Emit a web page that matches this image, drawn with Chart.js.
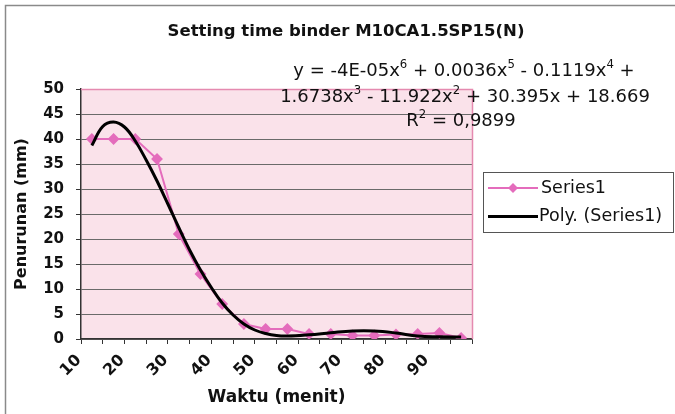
<!DOCTYPE html>
<html>
<head>
<meta charset="utf-8">
<script src="https://cdn.jsdelivr.net/npm/chart.js@4/dist/chart.umd.min.js"></script>
<style>
  html, body { margin: 0; padding: 0; background: #fff; }
  #wrap { width: 675px; height: 414px; position: relative; }
</style>
</head>
<body>
<div id="wrap"><canvas id="c" width="675" height="414"></canvas></div>
<script>
// Setting time measurements: settlement (mm) against time (minutes)
const categories = [10, 15, 20, 25, 30, 35, 40, 45, 50, 55, 60, 65, 70, 75, 80, 85, 90, 95];
const series1 = [40, 40, 40, 36, 21, 13, 7, 3, 2, 2, 1, 1, 0.7, 0.7, 0.9, 1, 1.2, 0.2];

// 6th-order polynomial trendline, sampled along the category index (1 = first category)
const trendX = [1, 1.5, 2, 2.5, 3, 3.5, 4, 4.5, 5, 5.5, 6, 6.5, 7, 7.5, 8, 8.5, 9, 9.5, 10, 11, 12, 13, 14, 15, 16, 17, 18];
const trendY = [38.7, 42.5, 43.4, 42.4, 39.6, 35.8, 31.6, 27.0, 22.3, 17.8, 13.8, 10.3, 7.2, 4.8, 3.0, 1.8, 1.1, 0.7, 0.6, 0.85, 1.25, 1.6, 1.6, 1.2, 0.6, 0.45, 0.4];

// Coefficients printed with the trendline, highest power first
const polyCoef = [-4E-05, 0.0036, -0.1119, 1.6738, -11.922, 30.395, 18.669];
const rSquaredText = '0,9899';

const yMin = 0, yMax = 50, yStep = 5;

const chartTitle = 'Setting time binder M10CA1.5SP15(N)';
const xTitle = 'Waktu (menit)';
const yTitle = 'Penurunan (mm)';
const seriesName = 'Series1';
const trendName = 'Poly. (Series1)';

const FONT = '"DejaVu Sans", "Liberation Sans", Arial, sans-serif';
const PINK = '#e46cbc';
const PLOT_BG = 'rgb(250,226,234)';
const GRID = '#6a6a6a';
const AXIS = '#333333';
const BORDER_PINK = '#e58ab0';

function fmtNum(v) {
  const a = Math.abs(v);
  if (a < 0.001) {
    return a.toExponential(0).toUpperCase().replace(/E([+-])(\d)$/, 'E$10$2');
  }
  return String(a);
}

// Build the equation as text segments (superscripts flagged), split over two lines
function equationLines() {
  const deg = polyCoef.length - 1;
  const line1 = [{ t: 'y = ' }];
  const line2 = [];
  polyCoef.forEach((c, i) => {
    const p = deg - i;
    const target = p >= 4 ? line1 : line2;
    let prefix = '';
    if (i === 0) prefix = c < 0 ? '-' : '';
    else if (p === 3) prefix = '';
    else prefix = c < 0 ? ' - ' : ' + ';
    if (p === 3) line1.push({ t: c < 0 ? ' -' : ' +' });
    let txt = prefix + fmtNum(c);
    if (p >= 1) txt += 'x';
    target.push({ t: txt });
    if (p >= 2) target.push({ t: String(p), sup: true });
  });
  return [line1, line2];
}

function drawRich(ctx, segs, cx, cy, size) {
  let total = 0;
  segs.forEach(s => {
    ctx.font = (s.sup ? size * 0.65 : size) + 'px ' + FONT;
    s.w = ctx.measureText(s.t).width;
    total += s.w;
  });
  let x = cx - total / 2;
  ctx.textAlign = 'left';
  ctx.textBaseline = 'middle';
  segs.forEach(s => {
    ctx.font = (s.sup ? size * 0.65 : size) + 'px ' + FONT;
    ctx.fillText(s.t, x, s.sup ? cy - size * 0.34 : cy);
    x += s.w;
  });
}

const decorations = {
  id: 'decorations',
  beforeDraw(chart) {
    const { ctx, chartArea: a, width, height } = chart;
    ctx.save();
    ctx.fillStyle = '#ffffff';
    ctx.fillRect(0, 0, width, height);
    // outer chart frame
    ctx.strokeStyle = '#8a8a8a';
    ctx.lineWidth = 1.5;
    ctx.strokeRect(5.5, 5.5, width + 10, height + 10);
    // plot area fill
    ctx.fillStyle = PLOT_BG;
    ctx.fillRect(a.left, a.top, a.right - a.left, a.bottom - a.top);
    ctx.restore();
  },
  beforeDatasetsDraw(chart) {
    const { ctx, chartArea: a } = chart;
    ctx.save();
    ctx.strokeStyle = BORDER_PINK;
    ctx.lineWidth = 1.5;
    ctx.beginPath();
    ctx.moveTo(a.left, a.top + 0.5);
    ctx.lineTo(a.right + 0.5, a.top + 0.5);
    ctx.lineTo(a.right + 0.5, a.bottom);
    ctx.stroke();
    ctx.restore();
  },
  afterDraw(chart) {
    const { ctx } = chart;
    ctx.save();
    ctx.fillStyle = '#111111';

    // chart title
    ctx.font = 'bold 16.5px ' + FONT;
    ctx.textAlign = 'center';
    ctx.textBaseline = 'middle';
    ctx.fillText(chartTitle, 346, 32);

    // trendline equation and R squared
    const [l1, l2] = equationLines();
    drawRich(ctx, l1, 464, 71, 18);
    drawRich(ctx, l2, 465, 97, 18);
    drawRich(ctx, [{ t: 'R' }, { t: '2', sup: true }, { t: ' = ' + rSquaredText }], 461, 121, 18);

    // legend box
    ctx.strokeStyle = '#555555';
    ctx.lineWidth = 1;
    ctx.strokeRect(483.5, 172.5, 190, 60);

    const y1 = 188, y2 = 216.5;
    ctx.strokeStyle = PINK;
    ctx.lineWidth = 2;
    ctx.beginPath(); ctx.moveTo(488, y1); ctx.lineTo(538, y1); ctx.stroke();
    ctx.fillStyle = PINK;
    ctx.beginPath();
    ctx.moveTo(513, y1 - 5); ctx.lineTo(518, y1); ctx.lineTo(513, y1 + 5); ctx.lineTo(508, y1);
    ctx.closePath(); ctx.fill();

    ctx.strokeStyle = '#000000';
    ctx.lineWidth = 3;
    ctx.beginPath(); ctx.moveTo(488, y2); ctx.lineTo(538, y2); ctx.stroke();

    ctx.fillStyle = '#111111';
    ctx.font = '17.5px ' + FONT;
    ctx.textAlign = 'left';
    ctx.textBaseline = 'middle';
    ctx.fillText(seriesName, 541, y1);
    ctx.fillText(trendName, 539, y2);
    ctx.restore();
  }
};

const ctx = document.getElementById('c').getContext('2d');
new Chart(ctx, {
  type: 'line',
  data: {
    labels: categories,
    datasets: [
      {
        label: trendName,
        data: trendX.map((x, i) => ({ x: x, y: trendY[i] })),
        xAxisID: 'xt',
        borderColor: '#000000',
        borderWidth: 3,
        pointRadius: 0,
        tension: 0.4,
        fill: false,
        order: 0
      },
      {
        label: seriesName,
        data: series1,
        xAxisID: 'x',
        borderColor: PINK,
        backgroundColor: PINK,
        borderWidth: 2,
        pointStyle: 'rectRot',
        pointRadius: 4.5,
        pointBackgroundColor: PINK,
        pointBorderColor: PINK,
        tension: 0,
        fill: false,
        order: 1
      }
    ]
  },
  options: {
    responsive: false,
    devicePixelRatio: 1,
    animation: false,
    layout: { padding: { top: 89, right: 203, left: 0, bottom: 0 } },
    plugins: {
      legend: { display: false },
      title: { display: false },
      tooltip: { enabled: false }
    },
    scales: {
      x: {
        type: 'category',
        offset: true,
        grid: { offset: true, drawOnChartArea: false, drawTicks: true, tickLength: 5, tickColor: AXIS },
        border: { color: AXIS, width: 1.5 },
        ticks: {
          autoSkip: false,
          maxRotation: 45,
          minRotation: 45,
          padding: 7,
          labelOffset: -13,
          color: '#111111',
          font: { family: FONT, size: 16, weight: 'bold' },
          callback: (v, i) => (categories[i] % 10 === 0 ? String(categories[i]) : '')
        },
        title: {
          display: true,
          text: xTitle,
          color: '#111111',
          font: { family: FONT, size: 17, weight: 'bold' },
          padding: { top: 0, bottom: 6 }
        },
        afterFit: s => { s.height = 75; }
      },
      xt: {
        type: 'linear',
        display: false,
        min: 0.5,
        max: categories.length + 0.5
      },
      y: {
        min: yMin,
        max: yMax,
        ticks: {
          stepSize: yStep,
          padding: 12,
          color: '#111111',
          font: { family: FONT, size: 15, weight: 'bold' }
        },
        grid: {
          color: c => (c.tick.value === yMax ? BORDER_PINK : GRID),
          lineWidth: 1,
          drawTicks: true,
          tickLength: 5,
          tickColor: AXIS
        },
        border: { color: AXIS, width: 1.5 },
        title: {
          display: true,
          text: yTitle,
          color: '#111111',
          font: { family: FONT, size: 16, weight: 'bold' },
          padding: { top: 12, bottom: 0 }
        },
        afterFit: s => { s.width = 81; }
      }
    }
  },
  plugins: [decorations]
});
</script>
</body>
</html>
